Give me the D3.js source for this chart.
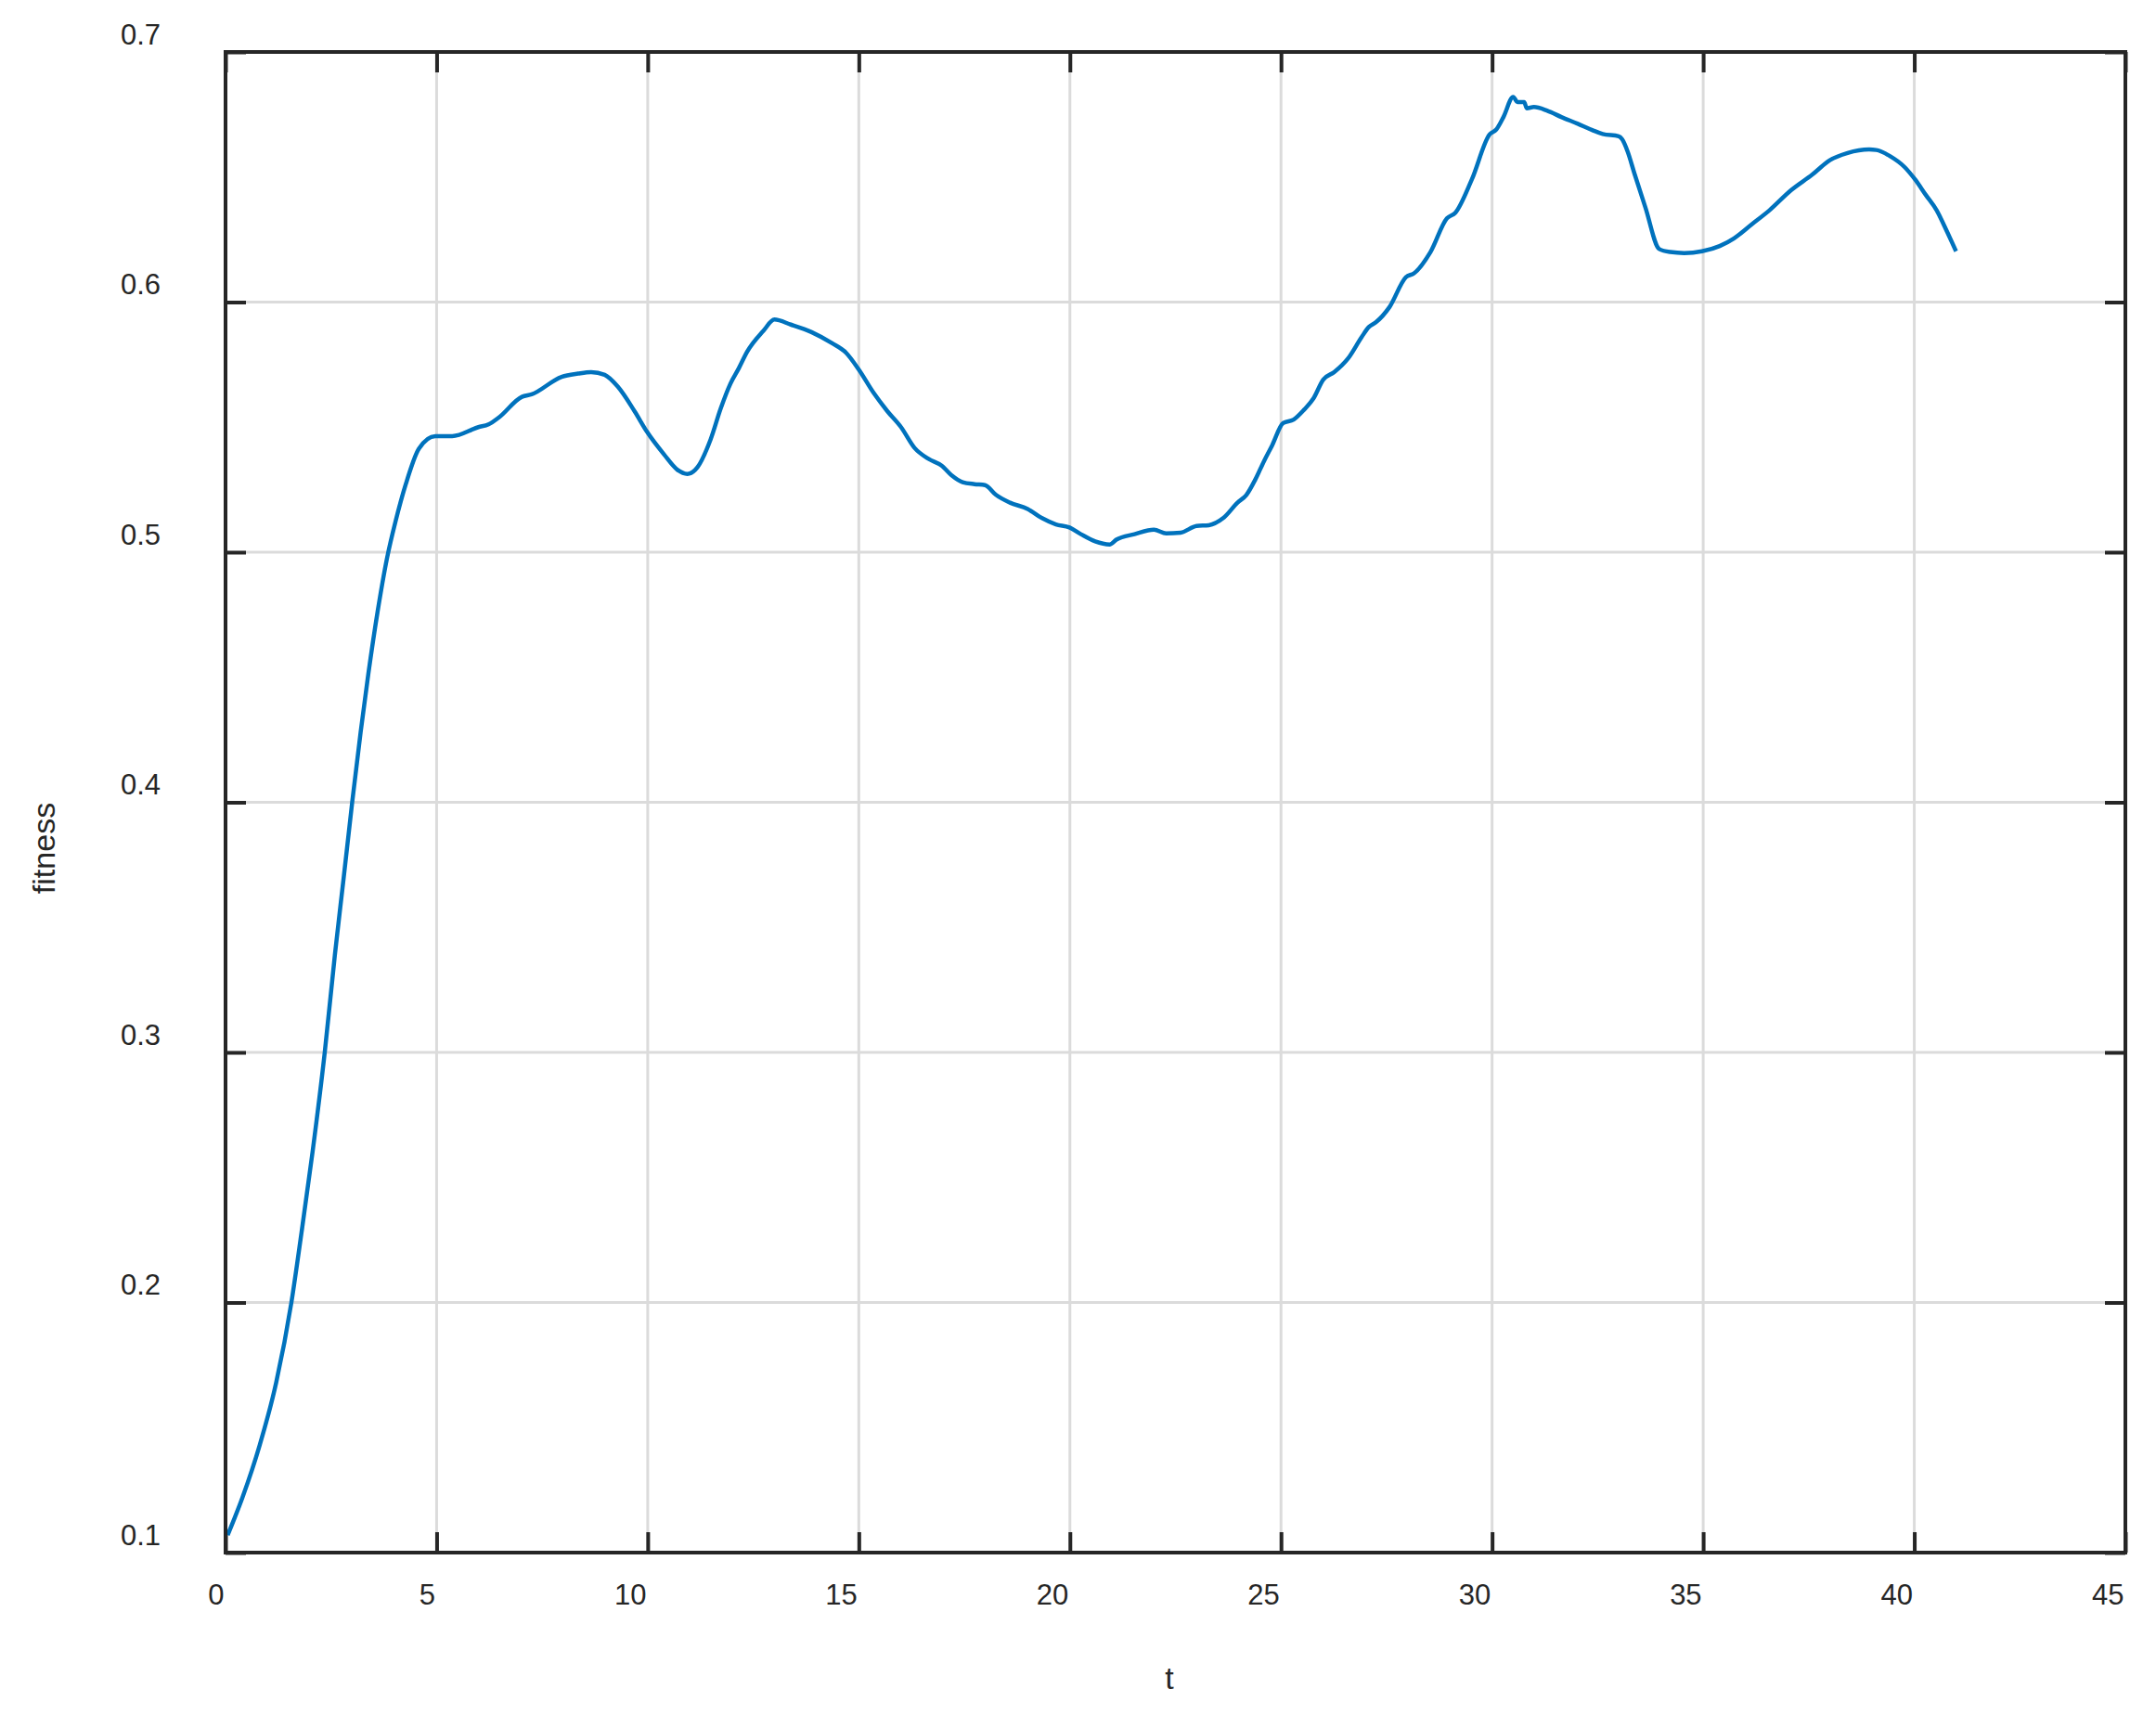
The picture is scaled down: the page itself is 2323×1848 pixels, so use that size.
<!DOCTYPE html>
<html>
<head>
<meta charset="utf-8">
<script src="https://cdn.jsdelivr.net/npm/d3@7"></script>
<style>
  html, body { margin: 0; padding: 0; background: #fff; }
  svg { display: block; }
  text { font-family: "Liberation Sans", Arial, Helvetica, sans-serif; fill: #262626; }
</style>
</head>
<body>
<svg id="chart" width="2323" height="1848"></svg>
<script>
const tValues = [0.05,0.4,0.81,1.2,1.56,1.8,2.06,2.35,2.59,2.8,3.0,3.2,3.38,3.6,3.83,4.03,4.27,4.58,4.97,5.37,5.99,6.23,6.47,7.02,7.25,7.96,8.35,8.66,8.98,9.29,9.69,9.98,10.39,10.7,10.94,11.18,11.49,11.73,11.96,12.16,12.35,12.74,13.0,13.39,13.88,14.37,14.7,15.0,15.35,15.67,16.0,16.32,16.65,16.97,17.2,17.46,17.74,17.99,18.25,18.58,19.0,19.34,19.67,19.99,20.26,20.6,20.94,21.1,21.53,21.99,22.28,22.62,23.0,23.29,23.63,23.97,24.18,24.39,24.6,24.79,25.05,25.3,25.55,25.77,26.0,26.26,26.59,26.91,27.08,27.24,27.57,27.96,28.15,28.54,28.93,29.13,29.52,29.94,30.1,30.27,30.5,30.6,30.76,30.82,30.99,31.31,31.64,32.03,32.37,32.62,33.0,33.08,33.21,33.37,33.63,33.96,34.22,34.55,34.97,35.39,35.73,36.15,36.57,37.08,37.58,38.0,38.42,38.93,39.1,39.43,39.77,40.02,40.27,40.53,40.78,40.99];
const fitnessValues = [0.107,0.122,0.143,0.168,0.2,0.228,0.26,0.3,0.339,0.37,0.4,0.428,0.451,0.476,0.498,0.5125,0.5272,0.5414,0.5464,0.5464,0.55,0.5511,0.5538,0.5621,0.5631,0.5701,0.5714,0.572,0.5709,0.5662,0.5563,0.5482,0.539,0.533,0.5313,0.534,0.5451,0.5575,0.5674,0.5736,0.58,0.5885,0.593,0.591,0.588,0.5835,0.5797,0.573,0.5637,0.5565,0.55,0.5417,0.5373,0.5345,0.5307,0.528,0.5272,0.5268,0.5229,0.5198,0.5173,0.5136,0.5111,0.5099,0.5072,0.5043,0.5031,0.505,0.5072,0.509,0.5075,0.5078,0.5105,0.5108,0.5136,0.5198,0.5229,0.529,0.5365,0.5427,0.5516,0.553,0.557,0.5615,0.569,0.572,0.5775,0.586,0.59,0.5918,0.598,0.61,0.6115,0.62,0.6335,0.6357,0.649,0.667,0.669,0.674,0.682,0.68,0.68,0.6775,0.678,0.6765,0.674,0.6713,0.6688,0.6672,0.6663,0.6651,0.6602,0.6515,0.6379,0.6212,0.62,0.6196,0.6203,0.6224,0.6255,0.6311,0.6367,0.6447,0.6509,0.6567,0.6596,0.661,0.6608,0.6583,0.654,0.649,0.6429,0.6367,0.628,0.6203];
const xTicks = [0,5,10,15,20,25,30,35,40,45];
const yTicks = [0.1,0.2,0.3,0.4,0.5,0.6,0.7];
const xTickLabels = ["0","5","10","15","20","25","30","35","40","45"];
const yTickLabels = ["0.1","0.2","0.3","0.4","0.5","0.6","0.7"];
const xLabel = "t";
const yLabel = "fitness";

const L = 243, R = 2290, T = 56, B = 1673;
const x = d3.scaleLinear().domain([0, 45]).range([L, R]);
const y = d3.scaleLinear().domain([0.1, 0.7]).range([B, T]);

const svg = d3.select("#chart");
const axisColor = "#262626";

// grid
const grid = svg.append("g");
grid.selectAll("line.vx").data(xTicks.filter(d => d > 0 && d < 45)).join("line")
  .attr("x1", d => x(d)).attr("x2", d => x(d)).attr("y1", T).attr("y2", B)
  .attr("stroke", "#dbdbdb").attr("stroke-width", 3);
grid.selectAll("line.hy").data(yTicks.filter(d => d > 0.1 && d < 0.7)).join("line")
  .attr("x1", L).attr("x2", R).attr("y1", d => y(d)).attr("y2", d => y(d))
  .attr("stroke", "#dbdbdb").attr("stroke-width", 3);

// axes (ticks inward)
function styleAxis(g) {
  g.select(".domain").remove();
  g.selectAll(".tick line").attr("stroke", axisColor).attr("stroke-width", 4);
  g.selectAll(".tick text").attr("fill", axisColor)
    .style("font-family", '"Liberation Sans", Arial, sans-serif').style("font-size", "31px");
}
const gx = svg.append("g").attr("transform", `translate(0,${B})`)
  .call(d3.axisBottom(x).tickValues(xTicks).tickSize(-22).tickFormat((d, i) => xTickLabels[i]));
styleAxis(gx);
gx.selectAll(".tick text").attr("text-anchor", "end").attr("x", -2).attr("y", 56).attr("dy", 0);

const gxt = svg.append("g").attr("transform", `translate(0,${T})`)
  .call(d3.axisTop(x).tickValues(xTicks).tickSize(-22).tickFormat(""));
styleAxis(gxt);

const gy = svg.append("g").attr("transform", `translate(${L},0)`)
  .call(d3.axisLeft(y).tickValues(yTicks).tickSize(-22).tickFormat((d, i) => yTickLabels[i]));
styleAxis(gy);
gy.selectAll(".tick text").attr("text-anchor", "end").attr("x", -70).attr("y", -9).attr("dy", 0);

const gyr = svg.append("g").attr("transform", `translate(${R},0)`)
  .call(d3.axisRight(y).tickValues(yTicks).tickSize(-22).tickFormat(""));
styleAxis(gyr);

// data line
const data = tValues.map((t, i) => ({ t, v: fitnessValues[i] }));
svg.append("clipPath").attr("id", "clip").append("rect")
  .attr("x", L).attr("y", T).attr("width", R - L).attr("height", B - T);
svg.append("path").datum(data)
  .attr("clip-path", "url(#clip)")
  .attr("fill", "none").attr("stroke", "#0072BD").attr("stroke-width", 4.5)
  .attr("stroke-linejoin", "round")
  .attr("d", d3.line().x(d => x(d.t)).y(d => y(d.v)).curve(d3.curveMonotoneX));

// frame
svg.append("rect").attr("x", L).attr("y", T).attr("width", R - L).attr("height", B - T)
  .attr("fill", "none").attr("stroke", axisColor).attr("stroke-width", 4);

// axis labels
svg.append("text").attr("x", 1260).attr("y", 1820).attr("text-anchor", "middle")
  .style("font-size", "34px").text(xLabel);
svg.append("text").attr("transform", "translate(59,914) rotate(-90)").attr("text-anchor", "middle")
  .style("font-size", "34px").text(yLabel);
</script>
</body>
</html>
